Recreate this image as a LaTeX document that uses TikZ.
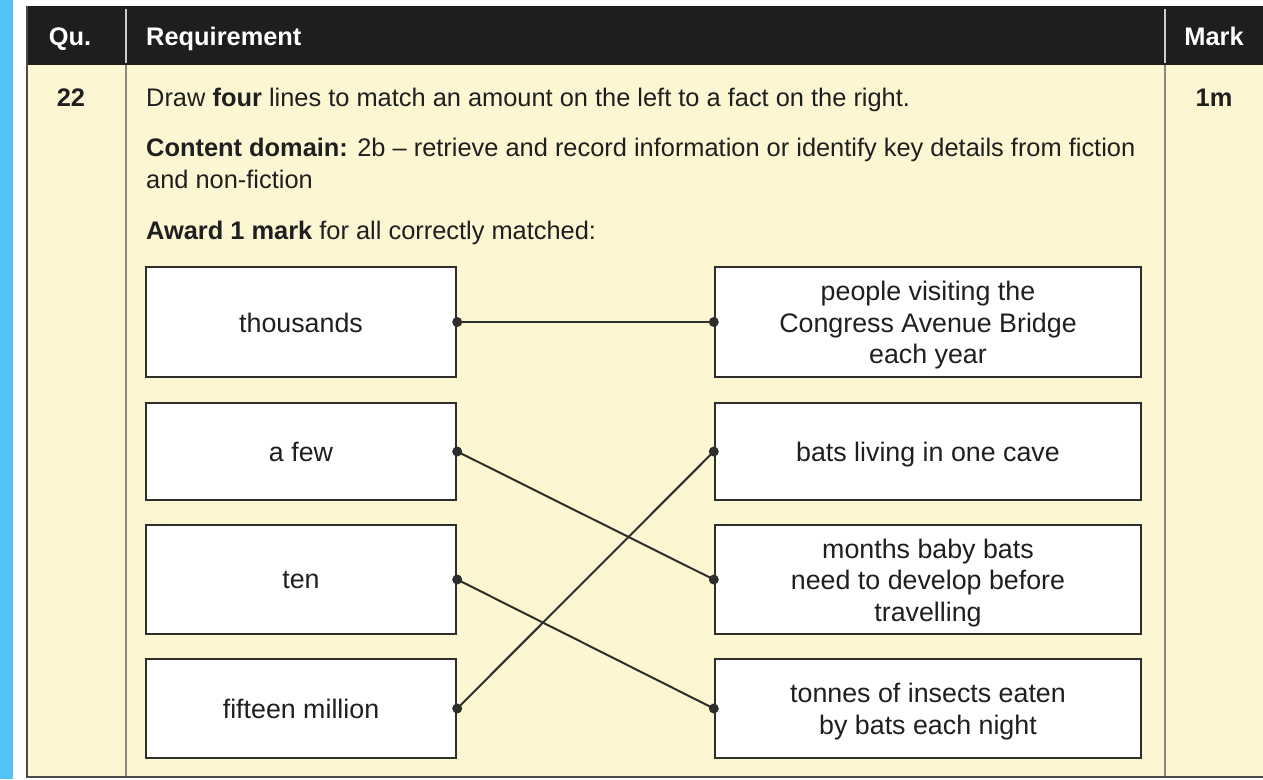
\documentclass[tikz,border=0pt]{standalone}
\usepackage{fontspec}
\setmainfont{Liberation Sans}
\definecolor{cream}{HTML}{FCF6D3}
\definecolor{hdr}{HTML}{1E1E1C}
\definecolor{bluestrip}{HTML}{52C3F7}
\definecolor{sepgrey}{HTML}{8A877C}
\definecolor{boxline}{HTML}{2E2E2C}
\begin{document}
\begin{tikzpicture}[x=1pt,y=-1pt,
  txt/.style={inner sep=0pt,font=\fontsize{25.4}{31.5}\selectfont,text=black!88},
  hd/.style={inner sep=0pt,font=\fontsize{25.4}{30}\selectfont\bfseries,text=white},
  matchbox/.style={draw=boxline,line width=2.4pt,fill=white,inner sep=0pt},
  boxtxt/.style={inner sep=0pt,align=center,yshift=-1.5pt,text depth=0.21em,
    font=\fontsize{26.8}{31.5}\selectfont,text=black!88},
  lbox/.style={matchbox,minimum width=310pt},
  rbox/.style={matchbox,minimum width=426pt},
  link/.style={line width=2pt,draw=boxline},
  dotfill/.style={fill=boxline}]
\useasboundingbox (0,0) rectangle (1263,779);
\fill[white] (0,0) rectangle (1263,779);
\fill[bluestrip] (0,0) rectangle (13,779);
% table body and header
\fill[cream] (27,65) rectangle (1263,777);
\fill[hdr] (27,6) rectangle (1263,65);
\draw[sepgrey,line width=1.5pt] (126,65) -- (126,777);
\draw[sepgrey,line width=1.5pt] (1165,65) -- (1165,777);
\draw[white!80!black,line width=1.5pt] (126,9) -- (126,63);
\draw[white!80!black,line width=1.5pt] (1165,9) -- (1165,63);
\draw[hdr!80!white,line width=2pt] (27,6) -- (27,777) -- (1263,777);
% header texts
\node[hd,anchor=base] (hq) at (70,45.5) {Qu.};
\node[hd,anchor=base west] (hr) at (146,45.5) {Requirement};
\node[hd,anchor=base] (hm) at (1214,45.5) {Mark};
% row text
\node[txt,anchor=base,font=\fontsize{25.4}{31.5}\selectfont\bfseries] (qn) at (71,106) {22};
\node[txt,anchor=base,font=\fontsize{25.4}{31.5}\selectfont\bfseries] (mk) at (1214,106) {1m};
\node[txt,anchor=base west] (t1) at (146,106) {Draw \textbf{four} lines to match an amount on the left to a fact on the right.};
\node[txt,anchor=base west] (t2) at (146,156) {\textbf{Content domain:} 2b – retrieve and record information or identify key details from fiction};
\node[txt,anchor=base west] (t3) at (146,188) {and non-fiction};
\node[txt,anchor=base west] (t4) at (146,239) {\textbf{Award 1 mark} for all correctly matched:};
% boxes
\node[lbox,minimum height=110pt,label={[boxtxt]center:thousands}] (l1) at (301,322) {};
\node[lbox,minimum height=97pt,label={[boxtxt]center:a few}] (l2) at (301,451.5) {};
\node[lbox,minimum height=109pt,label={[boxtxt]center:ten}] (l3) at (301,579.5) {};
\node[lbox,minimum height=99pt,label={[boxtxt]center:fifteen million}] (l4) at (301,708.5) {};
\node[rbox,minimum height=110pt,label={[boxtxt]center:{people visiting the\\Congress Avenue Bridge\\each year}}] (r1) at (928,322) {};
\node[rbox,minimum height=97pt,label={[boxtxt]center:bats living in one cave}] (r2) at (928,451.5) {};
\node[rbox,minimum height=109pt,label={[boxtxt]center:{months baby bats\\need to develop before\\travelling}}] (r3) at (928,579.5) {};
\node[rbox,minimum height=99pt,label={[boxtxt]center:{tonnes of insects eaten\\by bats each night}}] (r4) at (928,708.5) {};
% links
\draw[link] (l1.east) -- (r1.west);
\draw[link] (l2.east) -- (r3.west);
\draw[link] (l3.east) -- (r4.west);
\draw[link] (l4.east) -- (r2.west);
\foreach \n in {l1,l2,l3,l4}{\fill[dotfill] (\n.east) circle (5pt);}
\foreach \n in {r1,r2,r3,r4}{\fill[dotfill] (\n.west) circle (5pt);}
\end{tikzpicture}
\end{document}
